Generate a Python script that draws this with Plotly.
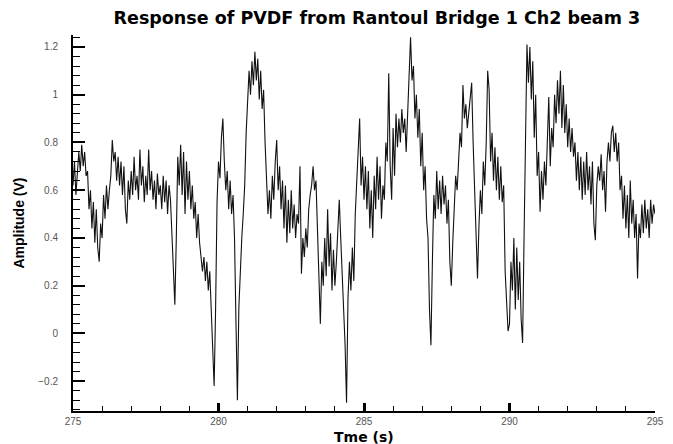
import plotly.graph_objects as go

# sampled every 0.05 s starting at 275 s, one row per second
t_start = 275.0
t_step = 0.05

amp_275 = [0.62, 0.72, 0.58, 0.70, 0.76, 0.68, 0.79, 0.70, 0.76, 0.66, 0.68, 0.52, 0.60, 0.44, 0.55, 0.38, 0.52, 0.36, 0.30, 0.46]
amp_276 = [0.40, 0.58, 0.48, 0.62, 0.52, 0.60, 0.66, 0.81, 0.72, 0.76, 0.64, 0.74, 0.62, 0.72, 0.58, 0.70, 0.52, 0.46, 0.64, 0.56]
amp_277 = [0.68, 0.58, 0.74, 0.60, 0.66, 0.56, 0.77, 0.62, 0.70, 0.55, 0.66, 0.58, 0.77, 0.60, 0.68, 0.56, 0.64, 0.52, 0.67, 0.58]
amp_278 = [0.62, 0.52, 0.66, 0.55, 0.64, 0.50, 0.62, 0.56, 0.40, 0.22, 0.12, 0.40, 0.74, 0.62, 0.79, 0.58, 0.76, 0.50, 0.72, 0.56]
amp_279 = [0.68, 0.52, 0.62, 0.48, 0.55, 0.40, 0.50, 0.38, 0.30, 0.26, 0.32, 0.22, 0.30, 0.18, 0.26, 0.10, 0.02, -0.22, 0.10, 0.55]
amp_280 = [0.72, 0.65, 0.82, 0.90, 0.72, 0.60, 0.68, 0.52, 0.64, 0.50, 0.58, 0.40, 0.05, -0.28, 0.11, 0.30, 0.40, 0.50, 0.62, 0.84]
amp_281 = [0.96, 1.10, 1.00, 1.14, 1.04, 1.18, 1.06, 1.15, 0.98, 1.10, 0.94, 1.02, 0.80, 0.62, 0.50, 0.60, 0.48, 0.66, 0.56, 0.72]
amp_282 = [0.81, 0.60, 0.70, 0.52, 0.64, 0.44, 0.62, 0.38, 0.56, 0.42, 0.60, 0.44, 0.54, 0.40, 0.50, 0.46, 0.70, 0.25, 0.40, 0.32]
amp_283 = [0.44, 0.36, 0.52, 0.58, 0.62, 0.70, 0.60, 0.64, 0.40, 0.22, 0.04, 0.30, 0.20, 0.40, 0.24, 0.52, 0.28, 0.42, 0.18, 0.35]
amp_284 = [0.20, 0.30, 0.45, 0.56, 0.40, 0.25, 0.10, -0.05, -0.29, 0.15, 0.30, 0.18, 0.36, 0.22, 0.50, 0.66, 0.78, 0.90, 0.62, 0.74]
amp_285 = [0.56, 0.70, 0.52, 0.68, 0.44, 0.60, 0.40, 0.66, 0.52, 0.74, 0.56, 0.70, 0.48, 0.62, 0.56, 0.80, 0.72, 1.09, 0.70, 0.56]
amp_286 = [0.86, 0.66, 0.92, 0.78, 0.90, 0.80, 0.94, 0.84, 0.90, 0.76, 0.92, 1.12, 1.24, 1.06, 1.12, 0.90, 1.00, 0.82, 0.94, 0.70]
amp_287 = [0.84, 0.60, 0.70, 0.48, 0.40, 0.10, -0.05, 0.30, 0.58, 0.48, 0.68, 0.52, 0.64, 0.50, 0.66, 0.54, 0.62, 0.46, 0.56, 0.30]
amp_288 = [0.20, 0.38, 0.56, 0.66, 0.60, 0.74, 0.84, 0.78, 1.04, 0.90, 0.96, 0.86, 0.92, 0.98, 1.05, 0.80, 0.62, 0.48, 0.23, 0.45]
amp_289 = [0.60, 0.50, 0.72, 0.62, 0.80, 1.10, 1.02, 0.72, 0.84, 0.64, 0.78, 0.60, 0.74, 0.56, 0.70, 0.55, 0.62, 0.26, 0.10, 0.01]
amp_290 = [0.04, 0.30, 0.18, 0.40, 0.10, 0.36, 0.14, 0.30, 0.06, -0.04, 0.40, 0.90, 1.21, 1.05, 1.20, 0.98, 1.14, 0.82, 1.00, 0.66]
amp_291 = [0.76, 0.51, 0.68, 0.56, 0.72, 0.62, 0.84, 0.99, 0.70, 0.86, 0.78, 1.00, 0.88, 1.06, 0.92, 1.10, 0.86, 1.04, 0.84, 0.96]
amp_292 = [0.78, 0.90, 0.76, 0.86, 0.74, 0.80, 0.64, 0.76, 0.60, 0.74, 0.56, 0.72, 0.58, 0.76, 0.60, 0.70, 0.54, 0.72, 0.46, 0.39]
amp_293 = [0.62, 0.70, 0.64, 0.75, 0.60, 0.68, 0.51, 0.72, 0.80, 0.72, 0.84, 0.87, 0.76, 0.84, 0.72, 0.80, 0.60, 0.66, 0.48, 0.62]
amp_294 = [0.44, 0.58, 0.40, 0.64, 0.46, 0.56, 0.40, 0.50, 0.23, 0.46, 0.40, 0.54, 0.42, 0.56, 0.44, 0.52, 0.40, 0.56, 0.46, 0.54, 0.50]

amplitude = (amp_275 + amp_276 + amp_277 + amp_278 + amp_279 + amp_280 + amp_281
             + amp_282 + amp_283 + amp_284 + amp_285 + amp_286 + amp_287 + amp_288
             + amp_289 + amp_290 + amp_291 + amp_292 + amp_293 + amp_294)

FONT = "Liberation Sans, Arial, sans-serif"
WIDE = "DejaVu Sans, Verdana, sans-serif"

fig = go.Figure()
fig.add_trace(go.Scatter(x0=t_start, dx=t_step, y=amplitude, mode="lines",
                         line=dict(color="#111111", width=1.1), showlegend=False,
                         hoverinfo="skip"))

fig.update_layout(
    width=673, height=444,
    margin=dict(l=73, r=9, t=35, b=33),
    paper_bgcolor="white", plot_bgcolor="white",
    font=dict(family=FONT, color="black"),
    title=dict(text="<b>Response of PVDF from Rantoul Bridge 1 Ch2 beam 3</b>",
               x=0.56, xanchor="center", y=0.959, yanchor="middle",
               font=dict(size=17.5, family=WIDE)),
)
# x title placed by hand so it stays inside the small bottom margin
fig.add_annotation(text="<b>Tme (s)</b>", xref="paper", yref="paper", x=0.5, y=0,
                   xanchor="center", yanchor="top", yshift=-16, showarrow=False,
                   font=dict(size=14, family=WIDE))
fig.update_xaxes(
    range=[275, 295], tick0=275, dtick=5,
    showline=True, linewidth=2, linecolor="black",
    ticks="inside", ticklen=8, tickwidth=3, tickcolor="black",
    minor=dict(dtick=1, ticks="inside", ticklen=5, tickwidth=1, tickcolor="black"),
    showgrid=False, zeroline=False,
    tickfont=dict(size=10, color="#555"),
)
fig.update_yaxes(
    range=[-0.325, 1.25], tick0=0, dtick=0.2,
    showline=True, linewidth=2, linecolor="black",
    ticks="inside", ticklen=12, tickwidth=2, tickcolor="black",
    minor=dict(dtick=0.04, ticks="inside", ticklen=7, tickwidth=1, tickcolor="black"),
    showgrid=False, zeroline=False,
    tickfont=dict(size=10, color="#555"), ticklabelstandoff=11,
    title=dict(text="<b>Amplitude (V)</b>", font=dict(size=14), standoff=10),
)

# no body margin and no scrollbars, so the figure sits at the window's corner
fig.write_html("out.html", config={"displayModeBar": False},
               post_script="document.body.style.margin='0';"
                           "document.body.style.overflow='hidden';")
